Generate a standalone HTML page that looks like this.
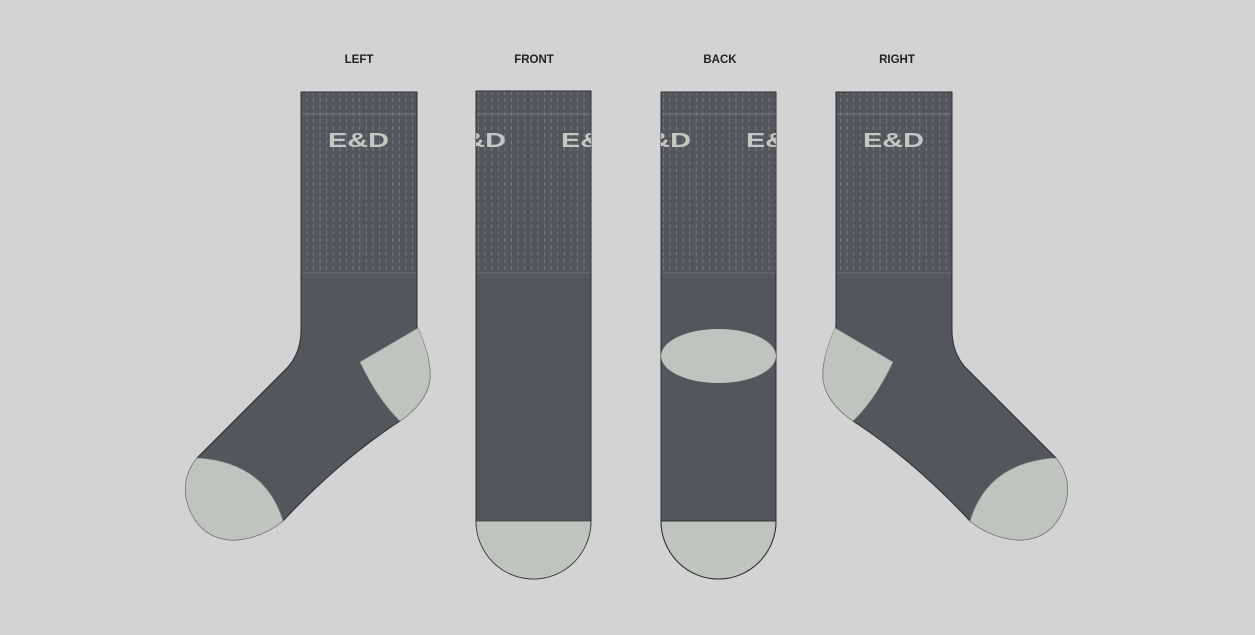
<!DOCTYPE html>
<html><head><meta charset="utf-8"><style>
html,body{margin:0;padding:0;background:#d3d3d3;}
svg{display:block;}
</style></head><body>
<svg width="1255" height="635" viewBox="0 0 1255 635" xmlns="http://www.w3.org/2000/svg">
<defs>
<pattern id="rib" x="0" y="0" width="6.6" height="7" patternUnits="userSpaceOnUse">
<line x1="3.3" y1="0" x2="3.3" y2="4" stroke="#85888b" stroke-width="0.7"/>
</pattern>
<clipPath id="cf"><rect x="476" y="91" width="115" height="182"/></clipPath>
<clipPath id="cb"><rect x="661" y="92" width="115" height="181"/></clipPath>
</defs>
<g font-family="Liberation Sans, sans-serif" font-weight="bold" font-size="11.5" fill="#222" text-anchor="middle">
<text x="359" y="63">LEFT</text>
<text x="534" y="63">FRONT</text>
<text x="720" y="63">BACK</text>
<text x="897" y="63">RIGHT</text>
</g>
<g id="ls">
<path d="M301,92 L301,330 Q301,352 288,367 L197,458 Q180,480 188,505 Q200,540 235,540 Q262,538 283,521 Q340,460 400,421 Q430,400 430,375 Q430,355 417,327 L417,92 Z" fill="#53565b" stroke="#2c2e30" stroke-width="1"/>
<rect x="302" y="93" width="114" height="180" fill="url(#rib)"/>
<line x1="302" y1="114" x2="416" y2="114" stroke="#777a7e" stroke-width="1"/>
<line x1="302" y1="273" x2="416" y2="273" stroke="#6b6e72" stroke-width="1"/>
<path d="M197,458 Q265,462 283,521 Q262,538 235,540 Q200,540 188,505 Q180,480 197,458 Z" fill="#c0c4be" stroke="#8a8c8a" stroke-width="0.6"/>
<path d="M360,362 L418,328 Q430,355 430,375 Q430,400 400,421 Q378,400 360,362 Z" fill="#c0c4be" stroke="#8a8c8a" stroke-width="0.6"/>
</g>
<use href="#ls" transform="translate(1253,0) scale(-1,1)"/>
<g font-family="Liberation Sans, sans-serif" font-weight="bold" font-size="20" fill="#c5c8c3">
<text x="328" y="147" textLength="61" lengthAdjust="spacingAndGlyphs">E&amp;D</text>
<text x="863" y="147" textLength="61" lengthAdjust="spacingAndGlyphs">E&amp;D</text>
</g>
<!-- FRONT -->
<path d="M476,91 L591,91 L591,521 A57.5,58 0 0 1 476,521 Z" fill="#53565b" stroke="#2c2e30" stroke-width="1"/>
<rect x="476.5" y="92" width="114" height="181" fill="url(#rib)"/>
<line x1="477" y1="114" x2="590" y2="114" stroke="#777a7e"/>
<line x1="477" y1="273" x2="590" y2="273" stroke="#6b6e72"/>
<g clip-path="url(#cf)" font-family="Liberation Sans, sans-serif" font-weight="bold" font-size="20" fill="#c5c8c3">
<text x="445" y="147" textLength="61" lengthAdjust="spacingAndGlyphs">E&amp;D</text><text x="561" y="147" textLength="61" lengthAdjust="spacingAndGlyphs">E&amp;D</text></g>
<path d="M476,521 L591,521 A57.5,58 0 0 1 476,521 Z" fill="#c0c4be" stroke="#3a3c3e" stroke-width="0.8"/>
<!-- BACK -->
<path d="M661,92 L776,92 L776,521 A57.5,58 0 0 1 661,521 Z" fill="#53565b" stroke="#2c2e30" stroke-width="1"/>
<rect x="661.5" y="93" width="114" height="180" fill="url(#rib)"/>
<line x1="662" y1="114" x2="775" y2="114" stroke="#777a7e"/>
<line x1="662" y1="273" x2="775" y2="273" stroke="#6b6e72"/>
<g clip-path="url(#cb)" font-family="Liberation Sans, sans-serif" font-weight="bold" font-size="20" fill="#c5c8c3">
<text x="630" y="147" textLength="61" lengthAdjust="spacingAndGlyphs">E&amp;D</text><text x="746" y="147" textLength="61" lengthAdjust="spacingAndGlyphs">E&amp;D</text></g>
<ellipse cx="718.5" cy="356" rx="57.5" ry="27" fill="#c0c4be"/>
<path d="M661,521 L776,521 A57.5,58 0 0 1 661,521 Z" fill="#c0c4be" stroke="#2c2e30" stroke-width="1"/>
</svg>
</body></html>
